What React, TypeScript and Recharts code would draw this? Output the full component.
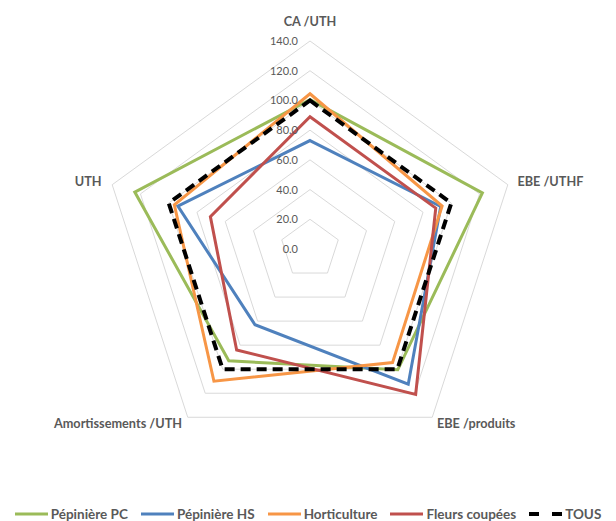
import { RadarChart, Radar, PolarGrid, PolarAngleAxis, PolarRadiusAxis, Legend } from 'recharts';

const categories = ['CA /UTH', 'EBE /UTHF', 'EBE /produits', 'Amortissements /UTH', 'UTH'];
const pepinierePC = [100.5, 122, 100.5, 93, 124];
const pepiniereHS = [73, 92.5, 112.5, 63, 93.5];
const horticulture = [104.5, 93.5, 94.5, 110, 96];
const fleursCoupees = [89, 89, 121, 84, 70.5];
const tous = [100, 100, 100, 100, 100];
const radiusTicks = [0, 20, 40, 60, 80, 100, 120, 140];

const series = [
  { key: 'pc', name: 'Pépinière PC', color: '#9BBB59', values: pepinierePC },
  { key: 'hs', name: 'Pépinière HS', color: '#4F81BD', values: pepiniereHS },
  { key: 'horti', name: 'Horticulture', color: '#F79646', values: horticulture },
  { key: 'fleurs', name: 'Fleurs coupées', color: '#C0504D', values: fleursCoupees },
  { key: 'tous', name: 'TOUS', color: '#000000', values: tous, dash: '10 6' },
];

const data = categories.map((c, i) => {
  const row: Record<string, any> = { cat: c };
  series.forEach((s) => (row[s.key] = s.values[i]));
  return row;
});

const FONT = 'Lato, "Open Sans", sans-serif';
const TEXT = '#595959';

function AngleTick(props: any) {
  const { x, y, payload, index } = props;
  let anchor: 'start' | 'middle' | 'end' = 'middle';
  let dx = 0;
  let dy = 4;
  if (index === 0) { dy = -7; }
  else if (index === 1) { anchor = 'start'; dx = 2; }
  else if (index === 2) { anchor = 'start'; dx = 0; }
  else if (index === 3) { anchor = 'end'; dx = -1; }
  else if (index === 4) { anchor = 'end'; dx = -3; }
  return (
    <text x={x + dx} y={y + dy} textAnchor={anchor} fill={TEXT} fontSize={12.7} fontWeight={700} fontFamily={FONT}>
      {payload.value}
    </text>
  );
}

function RadiusTick(props: any) {
  const { x, y, payload } = props;
  return (
    <text x={x - 12} y={y + 4} textAnchor="end" fill={TEXT} fontSize={11} fontFamily={FONT}>
      {Number(payload.value).toFixed(1)}
    </text>
  );
}

function LegendContent() {
  return (
    <div style={{ display: 'flex', justifyContent: 'center', gap: 13, fontFamily: FONT, fontSize: 13.5, fontWeight: 700, color: TEXT, lineHeight: '16px' }}>
      {series.map((s) => (
        <div key={s.key} style={{ display: 'flex', alignItems: 'center', whiteSpace: 'nowrap' }}>
          <svg width={33} height={6} style={{ marginRight: 3 }}>
            <line x1={0} y1={3} x2={33} y2={3} stroke={s.color} strokeWidth={s.dash ? 4 : 3} strokeDasharray={s.dash ? '10 13' : undefined} />
          </svg>
          {s.name}
        </div>
      ))}
    </div>
  );
}

export default function App() {
  return (
    <div style={{ position: 'absolute', left: 0, top: 0, width: 616, height: 521, background: '#fff' }}>
      <RadarChart width={616} height={521} data={data} cx={310} cy={249} outerRadius={208} margin={{ top: 0, right: 0, bottom: 0, left: 0 }}>
        <PolarGrid gridType="polygon" radialLines={false} stroke="#D9D9D9" />
        <PolarAngleAxis dataKey="cat" tick={AngleTick} tickLine={false} axisLine={false} />
        <PolarRadiusAxis angle={90} domain={[0, 140]} ticks={radiusTicks} tickCount={8} tick={RadiusTick} axisLine={false} tickLine={false} />
        {series.map((s) => (
          <Radar
            key={s.key}
            name={s.name}
            dataKey={s.key}
            stroke={s.color}
            strokeWidth={s.dash ? 4 : 3}
            strokeDasharray={s.dash}
            fill="none"
            fillOpacity={0}
            dot={false}
            isAnimationActive={false}
          />
        ))}
        <Legend content={LegendContent} wrapperStyle={{ position: 'absolute', left: 0, top: 506, width: 616, height: 16 }} />
      </RadarChart>
    </div>
  );
}
